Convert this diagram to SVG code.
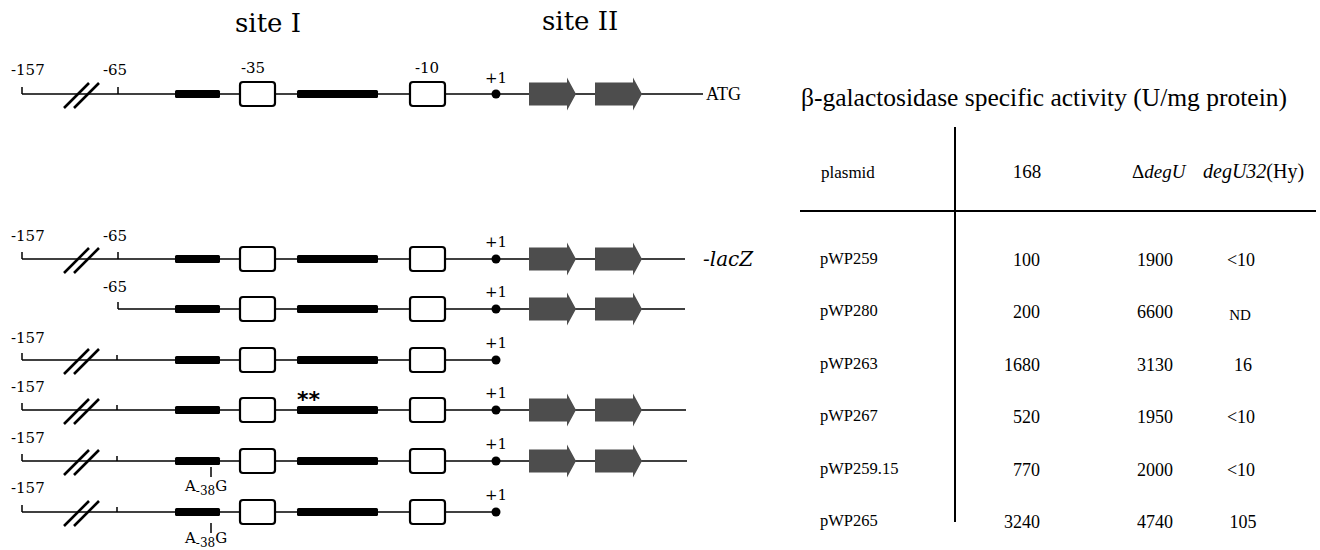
<svg xmlns="http://www.w3.org/2000/svg" width="1320" height="550" viewBox="0 0 1320 550">
  <defs>
    <style>
      .dna { stroke: #000; stroke-width: 1.3; fill: none; }
      .tick { stroke: #000; stroke-width: 1.5; fill: none; }
      .slash { stroke: #000; stroke-width: 2.6; fill: none; }
      .bar { fill: #000; }
      .box { fill: #fff; stroke: #000; stroke-width: 2.2; }
      .dot { fill: #000; }
      .gene { fill: #4d4d4d; }
      .pos { font-family: "DejaVu Serif", serif; font-size: 15px; fill: #000; }
      .site { font-family: "DejaVu Serif", serif; font-size: 26px; fill: #000; }
      .tab { font-family: "Liberation Serif", "Times New Roman", serif; font-size: 18px; fill: #000; }
      .rule { stroke: #000; stroke-width: 2; }
    </style>
    <!-- reusable promoter elements, drawn at line level y=0 -->
    <path id="slashes" class="slash" d="M64,14 L89,-11 M74,14 L99,-11"/>
    <rect id="bar1" class="bar" x="175" y="-4" width="45" height="8" rx="1.5"/>
    <rect id="bar2" class="bar" x="297" y="-4" width="81" height="8" rx="1.5"/>
    <rect id="box35" class="box" x="240" y="-12" width="35" height="24" rx="3"/>
    <rect id="box10" class="box" x="410" y="-12" width="35" height="24" rx="3"/>
    <circle id="tss" class="dot" cx="496" cy="0" r="4.5"/>
    <path id="gene" class="gene" d="M0,-11.5 H38 V-16.5 L47,0 L38,16.5 V11.5 H0 Z"/>
  </defs>

  <rect width="1320" height="550" fill="#fff"/>

  <!-- site headings -->
  <text class="site" x="235" y="32">site I</text>
  <text class="site" x="542" y="30">site II</text>

  <!-- connecting DNA lines for every construct -->
  <g id="connectors">
    <path class="dna" d="M22,94 H703"/>
    <path class="dna" d="M22,259 H685"/>
    <path class="dna" d="M118,309 H685"/>
    <path class="dna" d="M22,360 H496"/>
    <path class="dna" d="M22,410 H686"/>
    <path class="dna" d="M22,461 H687"/>
    <path class="dna" d="M22,512 H496"/>
  </g>

  <!-- wild-type promoter region -->
  <g id="wildtype" transform="translate(0,94)">
    <path class="tick" d="M22,-7 V0 M118,-7 V0"/>
    <use href="#slashes"/>
    <use href="#bar1"/>
    <use href="#box35"/>
    <use href="#bar2"/>
    <use href="#box10"/>
    <use href="#tss"/>
    <use href="#gene" x="529"/>
    <use href="#gene" x="595"/>
    <text class="pos" x="11" y="-19">-157</text>
    <text class="pos" x="103" y="-19">-65</text>
    <text class="pos" x="253" y="-21" text-anchor="middle">-35</text>
    <text class="pos" x="427" y="-21" text-anchor="middle">-10</text>
    <text class="pos" x="496" y="-11" text-anchor="middle">+1</text>
    <text x="706" y="6" font-family="Liberation Serif, serif" font-size="18">ATG</text>
  </g>

  <!-- pWP259 -->
  <g id="pWP259-map" transform="translate(0,259)">
    <path class="tick" d="M22,-7 V0 M118,-7 V0"/>
    <use href="#slashes"/>
    <use href="#bar1"/>
    <use href="#box35"/>
    <use href="#bar2"/>
    <use href="#box10"/>
    <use href="#tss"/>
    <use href="#gene" x="529"/>
    <use href="#gene" x="595"/>
    <text class="pos" x="11" y="-18">-157</text>
    <text class="pos" x="103" y="-18">-65</text>
    <text class="pos" x="496" y="-12" text-anchor="middle">+1</text>
    <text x="703" y="7" font-family="DejaVu Serif, serif" font-style="italic" font-size="20">-lacZ</text>
  </g>

  <!-- pWP280 -->
  <g id="pWP280-map" transform="translate(0,309)">
    <path class="tick" d="M118,-7 V0"/>
    <use href="#bar1"/>
    <use href="#box35"/>
    <use href="#bar2"/>
    <use href="#box10"/>
    <use href="#tss"/>
    <use href="#gene" x="529"/>
    <use href="#gene" x="595"/>
    <text class="pos" x="103" y="-17">-65</text>
    <text class="pos" x="496" y="-12" text-anchor="middle">+1</text>
  </g>

  <!-- pWP263 -->
  <g id="pWP263-map" transform="translate(0,360)">
    <path class="tick" d="M22,-7 V0 M117,-5 V0"/>
    <use href="#slashes"/>
    <use href="#bar1"/>
    <use href="#box35"/>
    <use href="#bar2"/>
    <use href="#box10"/>
    <use href="#tss"/>
    <text class="pos" x="11" y="-17">-157</text>
    <text class="pos" x="496" y="-12" text-anchor="middle">+1</text>
  </g>

  <!-- pWP267 -->
  <g id="pWP267-map" transform="translate(0,410)">
    <path class="tick" d="M22,-7 V0 M117,-5 V0"/>
    <use href="#slashes"/>
    <use href="#bar1"/>
    <use href="#box35"/>
    <use href="#bar2"/>
    <use href="#box10"/>
    <use href="#tss"/>
    <use href="#gene" x="529"/>
    <use href="#gene" x="595"/>
    <text class="pos" x="11" y="-18">-157</text>
    <text class="pos" x="496" y="-12" text-anchor="middle">+1</text>
    <text x="297" y="-3" font-family="DejaVu Sans, sans-serif" font-weight="bold" font-size="22">**</text>
  </g>

  <!-- pWP259.15 -->
  <g id="pWP259-15-map" transform="translate(0,461)">
    <path class="tick" d="M22,-7 V0 M117,-5 V0"/>
    <use href="#slashes"/>
    <use href="#bar1"/>
    <use href="#box35"/>
    <use href="#bar2"/>
    <use href="#box10"/>
    <use href="#tss"/>
    <use href="#gene" x="529"/>
    <use href="#gene" x="595"/>
    <text class="pos" x="11" y="-18">-157</text>
    <text class="pos" x="496" y="-12" text-anchor="middle">+1</text>
    <path class="tick" d="M211,6 V16" stroke-width="1"/>
    <text class="pos" x="185" y="30">A<tspan font-size="12" dy="4">-38</tspan><tspan dy="-4">G</tspan></text>
  </g>

  <!-- pWP265 -->
  <g id="pWP265-map" transform="translate(0,512)">
    <path class="tick" d="M22,-7 V0 M117,-5 V0"/>
    <use href="#slashes"/>
    <use href="#bar1"/>
    <use href="#box35"/>
    <use href="#bar2"/>
    <use href="#box10"/>
    <use href="#tss"/>
    <text class="pos" x="11" y="-19">-157</text>
    <text class="pos" x="496" y="-12" text-anchor="middle">+1</text>
    <path class="tick" d="M211,11 V21" stroke-width="1"/>
    <text class="pos" x="185" y="31">A<tspan font-size="12" dy="4">-38</tspan><tspan dy="-4">G</tspan></text>
  </g>

  <!-- activity table -->
  <g id="activity-table" class="tab">
    <text x="801" y="106" font-size="25.5">β-galactosidase specific activity (U/mg protein)</text>
    <line class="rule" x1="955" y1="127" x2="955" y2="522"/>
    <line class="rule" x1="800" y1="211" x2="1316" y2="211"/>
    <text x="821" y="178" font-size="17">plasmid</text>
    <text x="1027" y="178" text-anchor="middle" font-size="19">168</text>
    <text x="1132" y="178" font-size="19">Δ<tspan font-style="italic">degU</tspan></text>
    <text x="1203" y="178" font-size="20"><tspan font-style="italic">degU32</tspan>(Hy)</text>

    <g text-anchor="end">
      <text x="1040" y="266">100</text>
      <text x="1040" y="318">200</text>
      <text x="1040" y="371">1680</text>
      <text x="1040" y="423">520</text>
      <text x="1040" y="476">770</text>
      <text x="1040" y="528">3240</text>
    </g>
    <g text-anchor="middle">
      <text x="1155" y="266">1900</text>
      <text x="1155" y="318">6600</text>
      <text x="1155" y="371">3130</text>
      <text x="1155" y="423">1950</text>
      <text x="1155" y="476">2000</text>
      <text x="1155" y="528">4740</text>
      <text x="1241" y="266">&lt;10</text>
      <text x="1240" y="320" font-size="15">ND</text>
      <text x="1243" y="371">16</text>
      <text x="1241" y="423">&lt;10</text>
      <text x="1241" y="476">&lt;10</text>
      <text x="1243" y="528">105</text>
    </g>
    <g font-size="16.5">
      <text x="820" y="264">pWP259</text>
      <text x="820" y="316">pWP280</text>
      <text x="820" y="369">pWP263</text>
      <text x="820" y="421">pWP267</text>
      <text x="820" y="474">pWP259.15</text>
      <text x="820" y="526">pWP265</text>
    </g>
  </g>
</svg>
